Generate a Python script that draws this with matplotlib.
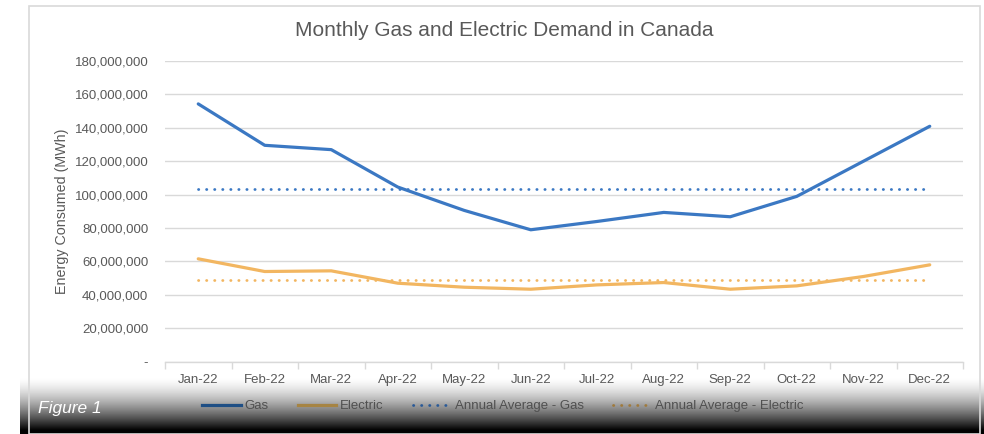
import numpy as np
import matplotlib.pyplot as plt
from matplotlib.lines import Line2D
from matplotlib.patches import Rectangle
from matplotlib.ticker import FuncFormatter

plt.rcParams['font.family'] = ['Liberation Sans', 'DejaVu Sans']

# Data
months = ["Jan-22", "Feb-22", "Mar-22", "Apr-22", "May-22", "Jun-22",
          "Jul-22", "Aug-22", "Sep-22", "Oct-22", "Nov-22", "Dec-22"]
gas = [154.3e6, 129.5e6, 126.9e6, 104.5e6, 90.5e6, 78.9e6,
       83.9e6, 89.3e6, 86.7e6, 98.9e6, 119.9e6, 140.9e6]
electric = [61.5e6, 53.9e6, 54.3e6, 46.9e6, 44.5e6, 43.3e6,
            45.9e6, 47.3e6, 43.3e6, 45.3e6, 50.9e6, 57.9e6]
avg_gas = [103.3e6] * 12
avg_electric = [48.7e6] * 12

gas_color = '#3b78c3'
elec_color = '#f2b661'
dots = (0, (0.1, 2.8))

W, H = 984, 434
fig = plt.figure(figsize=(W / 100, H / 100), dpi=100)
fig.patch.set_facecolor('white')

# chart border
fig.patches.append(Rectangle((29 / W, 0), 951 / W, 1 - 6 / H, transform=fig.transFigure,
                             fill=False, edgecolor='#d9d9d9', lw=1.2, zorder=0))

# dark gradient band at the bottom
band = fig.add_axes([20 / W, 0, 964 / W, 57 / H], zorder=0)
f = np.linspace(0, 1, 200)
grad = np.clip(1.1 * f ** 1.5, 0, 1)
band.imshow(grad[:, None], aspect='auto', cmap='gray_r', vmin=0, vmax=1,
            extent=[0, 1, 0, 1], origin='upper')
band.set_xlim(0, 1)
band.set_ylim(0, 1)
band.axis('off')

ax = fig.add_axes([165 / W, 1 - 361.5 / H, 798 / W, 300.5 / H], zorder=2)
ax.set_facecolor('none')
x = np.arange(len(months))

ax.plot(x, gas, color=gas_color, lw=2.3, solid_capstyle='round', zorder=4)
ax.plot(x, electric, color=elec_color, lw=2.3, solid_capstyle='round', zorder=4)
ax.plot(x, avg_gas, color=gas_color, lw=2.0, linestyle=dots, dash_capstyle='round', zorder=3)
ax.plot(x, avg_electric, color=elec_color, lw=2.0, linestyle=dots, dash_capstyle='round', zorder=3)

ax.set_xlim(-0.5, 11.5)
ax.set_ylim(0, 180e6)
ax.set_yticks(np.arange(0, 180e6 + 1, 20e6))
ax.yaxis.set_major_formatter(FuncFormatter(lambda v, p: '-' if v == 0 else f'{v:,.0f}'))
ax.grid(axis='y', color='#d9d9d9', lw=1)
ax.set_axisbelow(True)
for s in ['top', 'right', 'left']:
    ax.spines[s].set_visible(False)
ax.spines['bottom'].set_color('#d9d9d9')
ax.spines['bottom'].set_linewidth(1)

ax.set_xticks(x)
ax.set_xticklabels(months)
ax.set_xticks(np.arange(-0.5, 12, 1), minor=True)
ax.tick_params(axis='x', which='major', length=0, pad=9, labelsize=9.5, labelcolor='#595959')
ax.tick_params(axis='x', which='minor', length=5, color='#d9d9d9', width=1)
ax.tick_params(axis='y', length=0, pad=12, labelsize=9.5, labelcolor='#595959')

ax.set_ylabel('Energy Consumed (MWh)', fontsize=10.3, color='#595959', labelpad=4)
fig.text(504 / W, 1 - 30 / H, 'Monthly Gas and Electric Demand in Canada',
         ha='center', va='center', fontsize=15, color='#595959')

fig.text(38 / W, 1 - 408 / H, 'Figure 1', ha='left', va='center', fontsize=12.5,
         style='italic', color='white', zorder=5)

handles = [
    Line2D([], [], color='#1f4f85', lw=2.3),
    Line2D([], [], color='#a68443', lw=2.3),
    Line2D([], [], color='#2a5a98', lw=2.0, linestyle=dots, dash_capstyle='round'),
    Line2D([], [], color='#a07a3c', lw=2.0, linestyle=dots, dash_capstyle='round'),
]
labels = ['Gas', 'Electric', 'Annual Average - Gas', 'Annual Average - Electric']
leg = fig.legend(handles, labels, loc='center', bbox_to_anchor=(503 / W, 1 - 406 / H),
                 ncol=4, frameon=False, fontsize=9.5, handlelength=2.9,
                 handletextpad=0.3, columnspacing=2.2, labelcolor='#505050')
leg.set_zorder(6)

fig.savefig('out.png', dpi=100)
